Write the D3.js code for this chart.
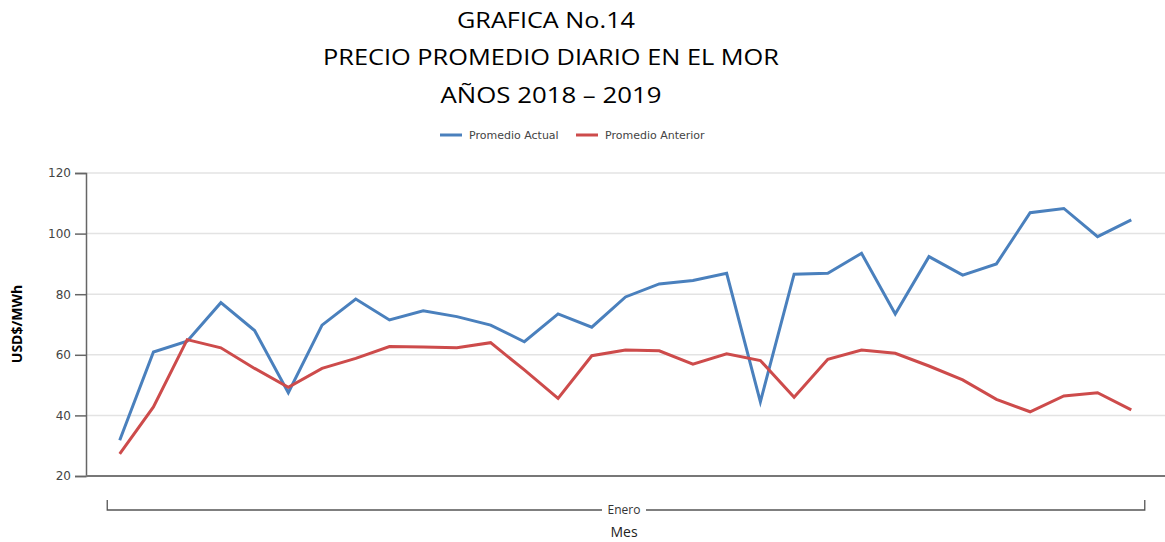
<!DOCTYPE html>
<html>
<head>
<meta charset="utf-8">
<script src="https://cdn.jsdelivr.net/npm/d3@7"></script>
<style>
  body { margin: 0; background: #fff; }
  svg { display: block; }
  .tick text { font-family: "DejaVu Sans", Verdana, sans-serif; font-size: 12px; fill: #444; }
</style>
</head>
<body>
<svg id="chart" width="1165" height="542"></svg>
<script>
// January days, 2019 (actual) vs 2018 (previous)
var dias = d3.range(1, 32);
var promedioActual = [31.8, 60.9, 64.5, 77.2, 68.0, 47.5, 69.8, 78.4, 71.5, 74.5,
                      72.6, 69.8, 64.3, 73.5, 69.1, 79.1, 83.4, 84.5, 86.9, 44.5,
                      86.6, 86.9, 93.5, 73.5, 92.4, 86.3, 90.0, 106.9, 108.3, 99.0, 104.5];
var promedioAnterior = [27.3, 42.8, 65.0, 62.3, 55.5, 49.3, 55.5, 58.8, 62.7, 62.6,
                        62.3, 64.0, 55.0, 45.6, 59.7, 61.6, 61.3, 56.9, 60.3, 58.1,
                        46.0, 58.5, 61.6, 60.5, 56.3, 51.7, 45.3, 41.2, 46.4, 47.5, 41.8];
var yTicks = [20, 40, 60, 80, 100, 120];
var titulos = ["GRAFICA No.14", "PRECIO PROMEDIO DIARIO EN EL MOR", "AÑOS 2018 – 2019"];
var series = [
    {name: "Promedio Actual", values: promedioActual, color: "#4a80bd"},
    {name: "Promedio Anterior", values: promedioAnterior, color: "#cd4b4b"}
];

var svg = d3.select("#chart");
var MARGINS = {top: 173, right: 0, bottom: 66, left: 86},
    WIDTH = 1165,
    HEIGHT = 542;

var xScale = d3.scaleLinear()
    .domain([0, dias.length + 1])
    .range([MARGINS.left, WIDTH - MARGINS.right]);

var yScale = d3.scaleLinear()
    .domain([20, 120])
    .range([HEIGHT - MARGINS.bottom, MARGINS.top]);

// titles
var titleY = [28, 65, 103],
    titleX = [546, 551, 551],
    titleLen = [178, 456, 221];
titulos.forEach(function(t, i) {
    svg.append("text")
        .attr("x", titleX[i])
        .attr("y", titleY[i])
        .attr("text-anchor", "middle")
        .attr("textLength", titleLen[i])
        .attr("lengthAdjust", "spacingAndGlyphs")
        .style("font-family", "'Open Sans', sans-serif")
        .style("font-size", "21px")
        .style("fill", "#000")
        .text(t);
});

// legend
var legendX = [440, 576];
series.forEach(function(s, i) {
    var g = svg.append("g").attr("transform", "translate(" + legendX[i] + ",135)");
    g.append("line")
        .attr("x1", 0).attr("x2", 22)
        .attr("stroke", s.color).attr("stroke-width", 3);
    g.append("text")
        .attr("x", 29).attr("y", 4)
        .style("font-family", "'DejaVu Sans', Verdana, sans-serif")
        .style("font-size", "11px")
        .style("fill", "#444")
        .text(s.name);
});

// grid
svg.append("g")
    .selectAll("line")
    .data(yTicks.filter(function(d) { return d > 20; }))
    .enter().append("line")
    .attr("x1", MARGINS.left)
    .attr("x2", WIDTH - MARGINS.right)
    .attr("y1", function(d) { return yScale(d); })
    .attr("y2", function(d) { return yScale(d); })
    .attr("stroke", "#e3e3e3")
    .attr("stroke-width", 1.5);

// y axis
var yAxis = d3.axisLeft(yScale).tickValues(yTicks).tickSize(11).tickPadding(4);
var gy = svg.append("g")
    .attr("transform", "translate(" + MARGINS.left + ",0)")
    .call(yAxis);
gy.selectAll("path, line").attr("stroke", "#666").attr("stroke-width", 1.5);

// x axis line
svg.append("line")
    .attr("x1", MARGINS.left)
    .attr("x2", WIDTH - MARGINS.right)
    .attr("y1", yScale(20))
    .attr("y2", yScale(20))
    .attr("stroke", "#777")
    .attr("stroke-width", 2);

// month bracket
var bx1 = xScale(0.63), bx2 = xScale(31.4), by = 510;
var bracket = svg.append("g").attr("stroke", "#555").attr("stroke-width", 1.3).attr("fill", "none");
bracket.append("path").attr("d", "M" + bx1 + "," + (by - 10) + "V" + by + "H602");
bracket.append("path").attr("d", "M646," + by + "H" + bx2 + "V" + (by - 10));
svg.append("text")
    .attr("x", (bx1 + bx2) / 2 - 2)
    .attr("y", by + 4)
    .attr("text-anchor", "middle")
    .style("font-family", "'Open Sans', sans-serif")
    .style("font-size", "12px")
    .style("fill", "#333")
    .text("Enero");
svg.append("text")
    .attr("x", (bx1 + bx2) / 2 - 2)
    .attr("y", 537)
    .attr("text-anchor", "middle")
    .style("font-family", "'Open Sans', sans-serif")
    .style("font-size", "14px")
    .style("fill", "#222")
    .text("Mes");

// y label
svg.append("text")
    .attr("transform", "translate(22,324) rotate(-90)")
    .attr("text-anchor", "middle")
    .style("font-family", "'Open Sans', sans-serif")
    .style("font-size", "14px")
    .style("font-weight", "bold")
    .style("fill", "#000")
    .text("USD$/MWh");

// lines
var lineGen = d3.line()
    .x(function(d, i) { return xScale(dias[i]); })
    .y(function(d) { return yScale(d); });

series.forEach(function(s) {
    svg.append("path")
        .attr("d", lineGen(s.values))
        .attr("fill", "none")
        .attr("stroke", s.color)
        .attr("stroke-width", 3)
        .attr("stroke-linejoin", "miter");
});
</script>
</body>
</html>
